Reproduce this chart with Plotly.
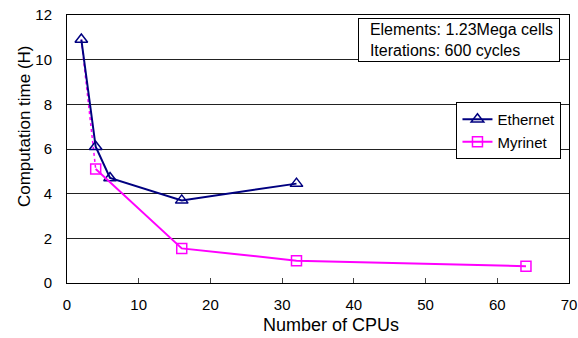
import plotly.graph_objects as go

eth_cpus = [2, 4, 6, 16, 32]
eth_time = [10.9, 6.1, 4.7, 3.7, 4.45]
myr_cpus = [4, 16, 32, 64]
myr_time = [5.1, 1.55, 1.0, 0.75]
myr_link_cpus = [2, 4]
myr_link_time = [10.9, 5.1]

x_ticks = [0, 10, 20, 30, 40, 50, 60, 70]
y_ticks = [0, 2, 4, 6, 8, 10, 12]

FONT = "Liberation Sans, Arial, sans-serif"

fig = go.Figure()
fig.add_trace(go.Scatter(x=myr_link_cpus, y=myr_link_time, mode="lines",
                         line=dict(color="#FF00FF", width=1.5, dash="dot"),
                         showlegend=False, hoverinfo="skip"))
fig.add_trace(go.Scatter(x=eth_cpus, y=eth_time, mode="lines+markers", name="Ethernet",
                         line=dict(color="#000080", width=2),
                         marker=dict(symbol="triangle-up-open", size=11, color="#000080",
                                     line=dict(width=1.5))))
fig.add_trace(go.Scatter(x=myr_cpus, y=myr_time, mode="lines+markers", name="Myrinet",
                         line=dict(color="#FF00FF", width=2),
                         marker=dict(symbol="square-open", size=10, color="#FF00FF",
                                     line=dict(width=1.5))))

fig.update_layout(
    width=578, height=338,
    margin=dict(l=67, r=9, t=15, b=55, autoexpand=False),
    paper_bgcolor="white", plot_bgcolor="white",
    font=dict(family=FONT, size=14, color="black"),
    showlegend=True,
    legend=dict(x=0.985, y=0.675, xanchor="right", yanchor="top",
                bgcolor="white", bordercolor="black", borderwidth=1,
                font=dict(size=15), tracegroupgap=0, itemwidth=30),
    xaxis=dict(range=[0, 70], tickvals=x_ticks, ticks="inside", ticklen=5,
               showline=True, linecolor="black", linewidth=1, mirror=True,
               showgrid=False, zeroline=False, automargin=False,
               ticklabelstandoff=8, tickfont=dict(size=15)),
    yaxis=dict(range=[0, 12], tickvals=y_ticks, ticks="",
               showline=True, linecolor="black", linewidth=1, mirror=True,
               showgrid=True, gridcolor="#222222", gridwidth=1, zeroline=False,
               automargin=False, ticklabelstandoff=11, tickfont=dict(size=15)),
    annotations=[
        dict(x=0.983, y=0.99, xref="paper", yref="paper",
             xanchor="right", yanchor="top", align="left", width=196,
             text="&nbsp;&nbsp;Elements: 1.23Mega cells<br>&nbsp;&nbsp;Iterations: 600 cycles",
             showarrow=False, bgcolor="white", bordercolor="black",
             borderwidth=1, borderpad=2, font=dict(size=16)),
        dict(x=0.526, y=-0.155, xref="paper", yref="paper",
             xanchor="center", yanchor="middle", showarrow=False,
             text="Number of CPUs", font=dict(size=18)),
        dict(x=-0.086, y=0.585, xref="paper", yref="paper",
             xanchor="center", yanchor="middle", showarrow=False, textangle=-90,
             text="Computation time (H)", font=dict(size=17)),
    ],
)

fig.write_html("out.html")
